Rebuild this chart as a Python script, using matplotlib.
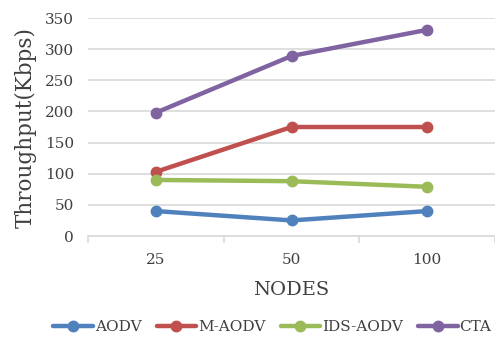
import matplotlib
matplotlib.use("Agg")
import matplotlib.pyplot as plt

nodes = ["25", "50", "100"]
aodv = [40, 25, 40]
m_aodv = [103, 175, 175]
ids_aodv = [90, 88, 79]
cta = [198, 289, 331]
series_names = ["AODV", "M-AODV", "IDS-AODV", "CTA"]
colors = ["#4F81BD", "#C0504D", "#9BBB59", "#8064A2"]

plt.rcParams["font.family"] = ["DejaVu Serif"]

fig = plt.figure(figsize=(4.95, 3.39), dpi=100)
ax = fig.add_axes([88 / 495, 1 - 236 / 339, 1 - 88 / 495, (236 - 18) / 339])

x = list(range(len(nodes)))
for vals, name, c in zip([aodv, m_aodv, ids_aodv, cta], series_names, colors):
    ax.plot(x, vals, color=c, lw=3.2, marker="o", ms=7.5, label=name,
            solid_capstyle="round")

ax.set_xlim(-0.5, len(nodes) - 0.5)
ax.set_ylim(0, 350)
ax.set_yticks(range(0, 351, 50))
ax.set_xticks(x)
ax.set_xticklabels(nodes)
ax.set_xticks([-0.5, 0.5, 1.5, 2.5], minor=True)

ax.grid(axis="y", color="#D9D9D9", lw=1.2)
ax.set_axisbelow(True)
for s in ["top", "right", "left"]:
    ax.spines[s].set_visible(False)
ax.spines["bottom"].set_color("#D9D9D9")
ax.spines["bottom"].set_linewidth(1.2)
ax.tick_params(axis="y", length=0, labelsize=11, colors="#404040", pad=10)
ax.tick_params(axis="x", which="major", length=0, labelsize=11,
               colors="#404040", pad=12)
ax.tick_params(axis="x", which="minor", length=5, color="#D9D9D9", width=1.2)

ax.set_ylabel("Throughput(Kbps)", fontsize=15.5, color="#404040", labelpad=6)
ax.set_xlabel("NODES", fontsize=14, color="#404040", labelpad=10)

fig.legend(loc="center", bbox_to_anchor=(0.55, 0.035), ncol=4, frameon=False,
           fontsize=11, handlelength=2.6, handletextpad=0.1,
           columnspacing=1.0, labelcolor="#404040")

fig.savefig("out.png", dpi=100)
